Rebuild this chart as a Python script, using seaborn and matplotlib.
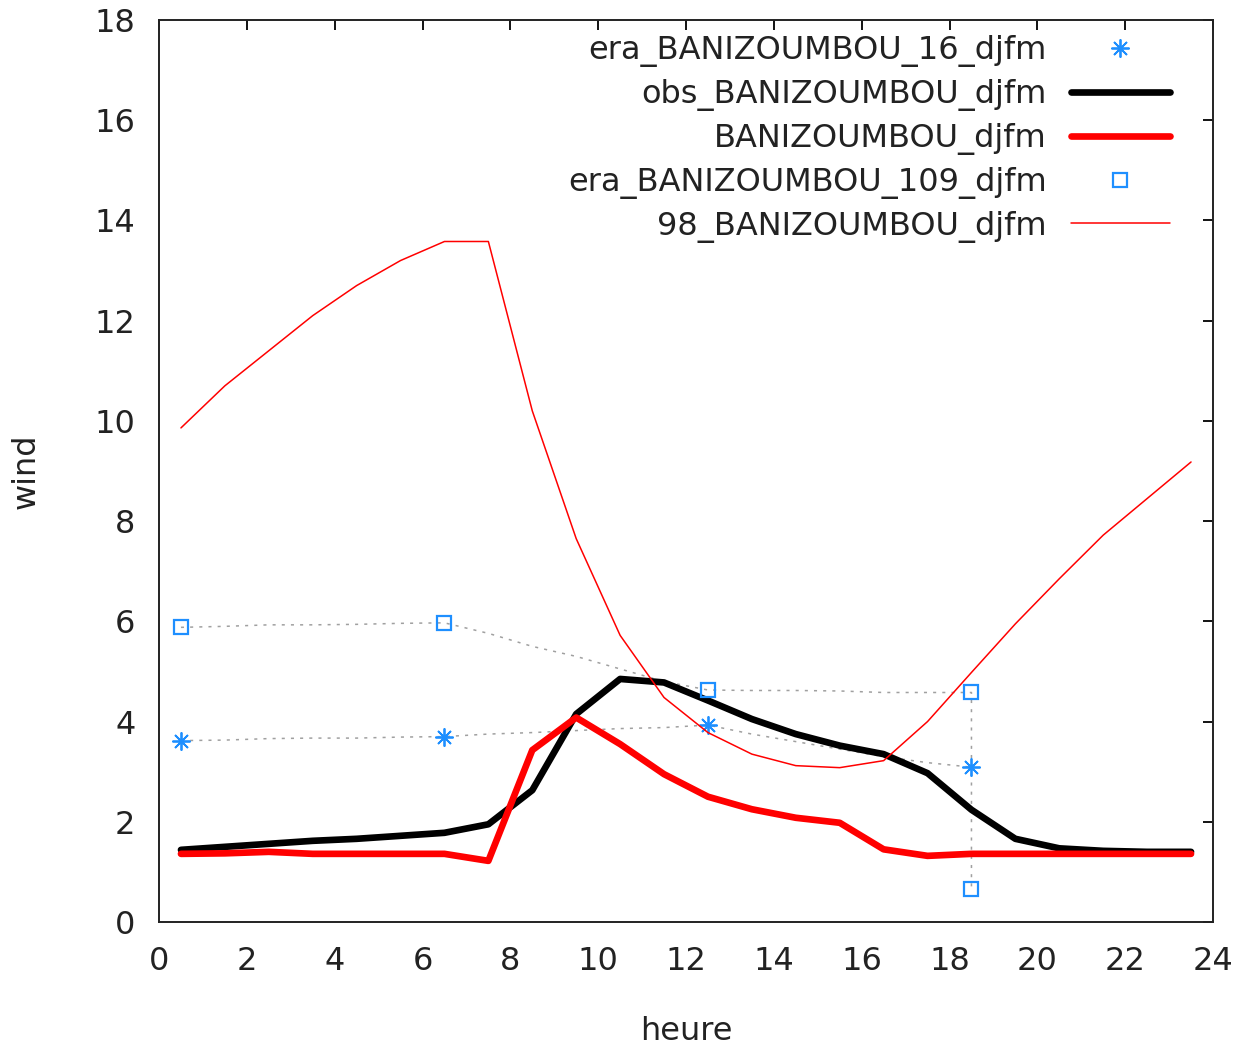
import matplotlib
matplotlib.use("Agg")
import matplotlib.pyplot as plt
import seaborn as sns
from matplotlib.lines import Line2D

# Hourly values (centre of each hour)
hours = [0.5, 1.5, 2.5, 3.5, 4.5, 5.5, 6.5, 7.5, 8.5, 9.5, 10.5, 11.5,
         12.5, 13.5, 14.5, 15.5, 16.5, 17.5, 18.5, 19.5, 20.5, 21.5, 22.5, 23.5]

obs_wind = [1.44, 1.50, 1.56, 1.62, 1.66, 1.72, 1.78, 1.95, 2.63, 4.15, 4.85, 4.78,
            4.42, 4.05, 3.75, 3.52, 3.35, 2.97, 2.24, 1.66, 1.47, 1.42, 1.40, 1.40]

model_wind = [1.36, 1.37, 1.40, 1.36, 1.36, 1.36, 1.36, 1.22, 3.43, 4.08, 3.55, 2.95,
              2.50, 2.25, 2.08, 1.98, 1.45, 1.32, 1.36, 1.36, 1.36, 1.36, 1.36, 1.36]

model98_wind = [9.86, 10.70, 11.40, 12.10, 12.70, 13.20, 13.58, 13.58, 10.20, 7.65, 5.72, 4.48,
                3.78, 3.35, 3.12, 3.08, 3.22, 4.00, 4.98, 5.95, 6.85, 7.72, 8.45, 9.18]

# ERA reanalysis, 6-hourly
era16_hours = [0.5, 6.5, 12.5, 18.5]
era16_wind = [3.62, 3.70, 3.93, 3.09]

era109_hours = [0.5, 6.5, 12.5, 18.5, 18.5]
era109_wind = [5.88, 5.97, 4.63, 4.58, 0.66]

# ERA values interpolated to hourly steps (dotted guides)
era16_guide_hours = hours[:19]
era16_guide_wind = [3.62, 3.63, 3.66, 3.67, 3.67, 3.69, 3.70, 3.75, 3.78, 3.82, 3.86, 3.88,
                    3.93, 3.75, 3.60, 3.45, 3.30, 3.18, 3.09]

era109_guide_hours = hours[:19] + [18.5]
era109_guide_wind = [5.88, 5.90, 5.93, 5.93, 5.94, 5.96, 5.97, 5.76, 5.50, 5.30, 5.05, 4.80,
                     4.63, 4.62, 4.62, 4.61, 4.58, 4.58, 4.58, 0.66]

labels = ["era_BANIZOUMBOU_16_djfm", "obs_BANIZOUMBOU_djfm", "BANIZOUMBOU_djfm",
          "era_BANIZOUMBOU_109_djfm", "98_BANIZOUMBOU_djfm"]

BLUE = "#1e8fff"
GREY = "#a0a0a0"
TEXT = "#222222"
FS = 23

sns.set_theme(style="white")
plt.rcParams["font.family"] = ["DejaVu Sans"]
plt.rcParams["font.size"] = FS

fig = plt.figure(figsize=(12.36, 10.45), dpi=100)
ax = fig.add_axes([159 / 1236, 1 - 922 / 1045, (1213 - 159) / 1236, (922 - 20) / 1045])

guide_kw = dict(color=GREY, linewidth=1.1, linestyle=(0, (2, 4)), estimator=None, sort=False, legend=False)
sns.lineplot(x=era16_guide_hours, y=era16_guide_wind, ax=ax, **guide_kw)
sns.lineplot(x=era109_guide_hours, y=era109_guide_wind, ax=ax, **guide_kw)

star_kw = dict(color=BLUE, marker=(8, 2, 0), markersize=13, markeredgecolor=BLUE,
               markeredgewidth=1.3, linestyle="")
sq_kw = dict(color=BLUE, marker="s", markersize=10, markerfacecolor="none",
             markeredgecolor=BLUE, markeredgewidth=1.6, linestyle="")

sns.lineplot(x=era16_hours, y=era16_wind, ax=ax, estimator=None, sort=False, legend=False, **star_kw)
sns.lineplot(x=hours, y=obs_wind, ax=ax, color="black", linewidth=4.8, estimator=None, legend=False)
sns.lineplot(x=hours, y=model_wind, ax=ax, color="#ff0000", linewidth=4.8, estimator=None, legend=False)
sns.lineplot(x=era109_hours, y=era109_wind, ax=ax, estimator=None, sort=False, legend=False, **sq_kw)
sns.lineplot(x=hours, y=model98_wind, ax=ax, color="#ff0000", linewidth=1.1, estimator=None, legend=False)

ax.set_xlim(0, 24)
ax.set_ylim(0, 18)
ax.set_xticks(range(0, 25, 2))
ax.set_yticks(range(0, 19, 2))
ax.tick_params(direction="in", length=7, width=1.3, top=True, right=True,
               labelsize=FS, pad=17, colors="#000000", labelcolor=TEXT)
for sp in ax.spines.values():
    sp.set_visible(True)
    sp.set_linewidth(1.4)
    sp.set_color(TEXT)

ax.set_xlabel("heure", fontsize=FS, labelpad=28, color=TEXT)
ax.set_ylabel("wind", fontsize=FS, labelpad=38, color=TEXT)

handles = [
    Line2D([], [], **star_kw),
    Line2D([], [], color="black", linewidth=4.8),
    Line2D([], [], color="#ff0000", linewidth=4.8),
    Line2D([], [], **sq_kw),
    Line2D([], [], color="#ff0000", linewidth=1.1),
]
leg = ax.legend(handles, labels, loc="upper right", bbox_to_anchor=(0.959, 0.983),
                frameon=False, markerfirst=False,
                fontsize=FS, handlelength=3.1, handletextpad=0.75, labelspacing=0.37,
                borderaxespad=0.0, borderpad=0.0)
for col in leg._legend_box.get_children()[1].get_children():
    col.align = "right"
for t in leg.get_texts():
    t.set_color(TEXT)

fig.savefig("out.png", dpi=100)
